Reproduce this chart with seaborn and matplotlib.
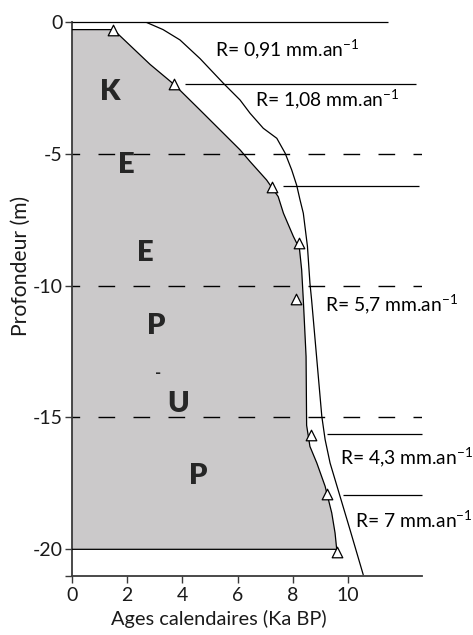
import numpy as np
import pandas as pd
import seaborn as sns
import matplotlib
matplotlib.use("Agg")
import matplotlib.pyplot as plt

# ---------------- data ----------------
# radiocarbon dates (calibrated age, depth)
date_age = [1.5, 3.7, 7.23, 8.24, 8.1, 8.65, 9.25, 9.59]
date_depth = [-0.33, -2.38, -6.25, -8.39, -10.5, -15.66, -17.89, -20.1]

# age-depth model (grey area boundary)
model_age = [0.0, 1.5, 2.83, 3.7, 4.64, 6.09, 6.45, 7.05, 7.47, 7.66, 8.02, 8.24,
             8.32, 8.38, 8.48, 8.5, 8.62, 8.87, 9.17, 9.41, 9.53, 9.59, 0.0]
model_depth = [-0.3, -0.3, -1.62, -2.38, -3.35, -4.86, -5.3, -6.0, -6.63, -7.26, -8.14, -8.6,
               -9.4, -10.54, -12.69, -15.3, -16.1, -16.73, -17.61, -18.62, -19.38, -20.0, -20.0]

# outer envelope curve
env_age = [2.64, 3.3, 3.91, 4.64, 5.48, 6.09, 6.45, 6.93, 7.42, 7.72, 7.96, 8.14, 8.26, 8.38,
           8.53, 8.62, 8.68, 8.86, 9.05, 9.17, 9.35, 9.71, 10.07, 10.55]
env_depth = [0.0, -0.3, -0.69, -1.40, -2.33, -2.97, -3.47, -4.04, -4.42, -4.98, -5.62, -6.2, -6.75,
             -7.26, -8.52, -9.91, -10.54, -12.69, -14.96, -15.84, -16.73, -17.99, -19.25, -20.96]

# sedimentation-rate segment boundaries
seg_depth = [0.0, -2.37, -6.22, -15.62, -17.95]
seg_start = [0.0, 4.09, 7.63, 9.23, 9.81]
seg_end = [11.46, 12.46, 12.58, 12.68, 12.68]

# sedimentation rates
rate_values = ["0,91", "1,08", "5,7", "4,3", "7"]
rate_age = [5.18, 6.63, 9.17, 9.71, 10.25]
rate_depth = [-1.07, -2.97, -10.73, -16.54, -18.87]

# vertical word
zone_letters = ["K", "E", "E", "P", "-", "U", "P"]
zone_age = [1.38, 1.96, 2.64, 3.07, 3.13, 3.85, 4.58]
zone_depth = [-2.67, -5.45, -8.77, -11.55, -13.3, -14.5, -17.23]

dash_depths = [-5, -10, -15]
x_ticks = [0, 2, 4, 6, 8, 10]
y_ticks = [0, -5, -10, -15, -20]

# ---------------- style ----------------
sns.set_style("ticks")
plt.rcParams["font.family"] = ["Lato", "DejaVu Sans"]
plt.rcParams["axes.unicode_minus"] = False

fig = plt.figure(figsize=(4.73, 6.35), dpi=100)
ax = fig.add_axes([72 / 473, 1 - 575.7 / 635, 350 / 473, 554 / 635])

spine_col = "#3a3a3a"
lw = 0.9

# grey model area
ax.fill(model_age, model_depth, color="#cbc9ca", lw=0, zorder=1)
sns.lineplot(x=model_age, y=model_depth, sort=False, estimator=None,
             color="black", lw=lw, ax=ax, zorder=3)
# envelope curve
sns.lineplot(x=env_age, y=env_depth, sort=False, estimator=None,
             color="black", lw=lw, ax=ax, zorder=3)

# dashed depth lines
for d in dash_depths:
    ax.plot([-0.315, 12.68], [d, d], color="black", lw=1.0,
            linestyle=(0, (12.0, 13.2)), zorder=2)

# segment lines
for d, s, e in zip(seg_depth, seg_start, seg_end):
    ax.plot([s, e], [d, d], color="black", lw=lw, zorder=3, clip_on=False,
            solid_capstyle="butt")

# dates
sns.scatterplot(x=date_age, y=date_depth, marker="^", s=58, facecolor="white",
                edgecolor="black", linewidth=0.9, ax=ax, zorder=5, clip_on=False)

# rate labels
for v, xa, yd in zip(rate_values, rate_age, rate_depth):
    ax.text(xa, yd, "R= " + v + r" mm.an$^{\mathregular{-1}}$", ha="left", va="center",
            fontsize=13.9, color="black")

# zone letters
for L, xa, yd in zip(zone_letters, zone_age, zone_depth):
    if L == "-":
        ax.text(xa, yd, L, ha="center", va="center", fontsize=12, fontweight="bold")
    else:
        ax.text(xa, yd, L, ha="center", va="center", fontsize=21, fontweight="heavy")

ax.set_xlim(0, 12.68)
ax.set_ylim(-21, 0)
ax.set_xticks(x_ticks)
ax.set_xticklabels([str(t) for t in x_ticks])
ax.set_yticks(y_ticks + [-21])
ax.set_yticklabels([str(t) for t in y_ticks] + [""])

for side in ["top", "right"]:
    ax.spines[side].set_visible(False)
for side in ["left", "bottom"]:
    ax.spines[side].set_color(spine_col)
    ax.spines[side].set_linewidth(1.3)
ax.tick_params(axis="both", direction="out", length=5, width=1.0, color=spine_col,
               labelsize=14, labelcolor="#1a1a1a")
ax.tick_params(axis="y", pad=2)
ax.tick_params(axis="x", pad=3)

ax.set_xlabel("Ages calendaires (Ka BP)", fontsize=14.4, color="#1a1a1a")
ax.set_ylabel("Profondeur (m)", fontsize=15.2, color="#1a1a1a")
ax.xaxis.set_label_coords(0.42, -0.062)
ax.yaxis.set_label_coords(-0.118, 0.56)

fig.savefig("out.png", dpi=100)
